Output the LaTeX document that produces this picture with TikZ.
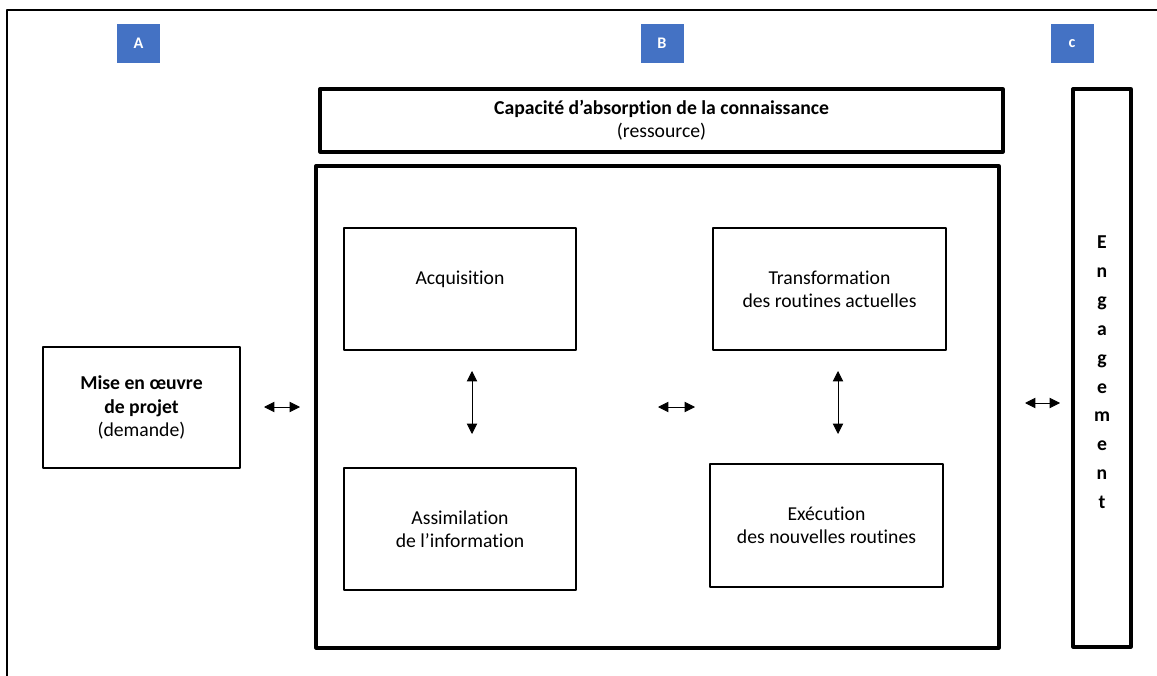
\documentclass[tikz,border=0pt]{standalone}
\usepackage{fontspec}
\setmainfont{Carlito}[Ligatures=NoCommon]
\usetikzlibrary{arrows.meta,positioning}
\definecolor{tagblue}{HTML}{4472C4}
\tikzset{
	wh/.style 2 args={minimum width=#1*0.025cm, minimum height=#2*0.025cm},
	box/.style={draw, line width=0.9pt, inner sep=0pt, align=center, font=\fontsize{14}{16.5}\selectfont},
	heavybox/.style={box, line width=2.3pt},
	tag/.style={fill=tagblue, text=white, inner sep=0pt, wh={43}{39}, font=\bfseries\fontsize{11.5}{12}\selectfont},
	dbl/.style={{Triangle[length=0.26cm,width=0.26cm]}-{Triangle[length=0.26cm,width=0.26cm]}, line width=0.6pt}
}
\begin{document}
\begin{tikzpicture}[x=0.025cm, y=-0.025cm, line join=round]
				\useasboundingbox (0,0) rectangle (1157,676);
				\draw[line width=0.8pt] (7,676)--(7,10)--(1157,10);
				% tags
				\node[tag] (tagA) at (138.5,43.5) {A};
				\node[tag] (tagB) at (662,43.5) {B};
				\node[tag] (tagC) at (1072,43.5) {c};
				% boxes
				\node[heavybox, wh={683}{63}] (capa) at (661.5,120.5) {\textbf{Capacité d’absorption de la connaissance}\\(ressource)};
				\node[heavybox, wh={683}{482}] (main) at (657.5,407) {};
				\node[heavybox, wh={58}{558}, font=\bfseries\fontsize{14}{20.6}\selectfont] (eng) at (1102,368) {\\[-5.5pt]E\\n\\g\\a\\g\\e\\m\\e\\n\\t};
				\node[box, wh={197}{121}] (mise) at (141.5,407.5) {\textbf{Mise en œuvre}\\\textbf{de projet}\\(demande)};
				\node[box, wh={232}{122}] (acq) at (460,289) {Acquisition\\\mbox{}};
				\node[box, wh={233}{122}] (trans) at (829.5,289) {Transformation\\des routines actuelles};
				\node[box, wh={232}{122}] (assim) at (460,529) {Assimilation\\de l’information};
				\node[box, wh={233}{123}] (exec) at (826.5,525.5) {Exécution\\des nouvelles routines};
				% arrows
				\path
				(264,407) coordinate (h1a)
				(300,407) coordinate (h1b)
				(658,407) coordinate (h2a)
				(695,407) coordinate (h2b)
				(1025,403) coordinate (h3a)
				(1060,403) coordinate (h3b)
				(472,371) coordinate (v1a)
				(472,434) coordinate (v1b)
				(838,371) coordinate (v2a)
				(838,434) coordinate (v2b)
				;
				\foreach \a/\b in {h1a/h1b,h2a/h2b,h3a/h3b,v1a/v1b,v2a/v2b}
				\draw[dbl] (\a)--(\b);
\end{tikzpicture}
\end{document}
